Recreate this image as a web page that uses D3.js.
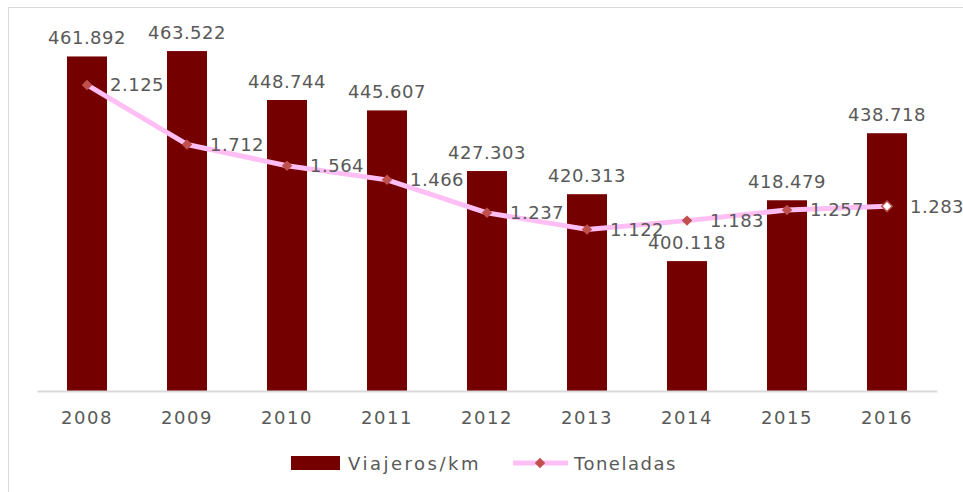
<!DOCTYPE html>
<html>
<head>
<meta charset="utf-8">
<script src="https://cdn.jsdelivr.net/npm/d3@7"></script>
<style>
  body { margin: 0; background: #fff; }
  svg { display: block; }
  text { font-family: "DejaVu Sans", sans-serif; }
</style>
</head>
<body>
<svg id="chart" width="963" height="492"></svg>
<script>
// data
const years = ["2008", "2009", "2010", "2011", "2012", "2013", "2014", "2015", "2016"];
const viajeros = [461.892, 463.522, 448.744, 445.607, 427.303, 420.313, 400.118, 418.479, 438.718];
const toneladas = [2.125, 1.712, 1.564, 1.466, 1.237, 1.122, 1.183, 1.257, 1.283];
const seriesNames = ["Viajeros/km", "Toneladas"];

const fmt = d3.format(".3f");
const svg = d3.select("#chart");

const barColor = "#750000";
const lineColor = "#ffbff4";
const markColor = "#c0504d";
const textColor = "#595959";

// frame (only the top left part is visible in the crop)
svg.append("path")
  .attr("d", "M8.5,492 V7.5 H963")
  .attr("fill", "none")
  .attr("stroke", "#d9d9d9")
  .attr("stroke-width", 1);

// cut off title, only descenders show
svg.append("text")
  .attr("x", 60).attr("y", -5)
  .attr("textLength", 650)
  .attr("lengthAdjust", "spacing")
  .style("font-size", "22px")
  .style("font-weight", "bold")
  .attr("fill", "#7f1734")
  .text("Tráfico de viajeros/km y toneladas (2008-2016)");

const x = d3.scaleBand().domain(years).range([37, 937]).paddingInner(0.6).paddingOuter(0.3);
const y = d3.scaleLinear().domain([360.9, 472.9]).range([391, 20]);
const y2 = d3.scaleLinear().domain([0, 2.576]).range([391, 20]);

// bars
svg.append("g").selectAll("rect")
  .data(viajeros)
  .join("rect")
  .attr("x", (d, i) => x(years[i]))
  .attr("width", x.bandwidth())
  .attr("y", d => y(d))
  .attr("height", d => y(360.9) - y(d))
  .attr("fill", barColor);

// axis line + year labels
const xAxis = svg.append("g")
  .attr("transform", "translate(0,391)")
  .call(d3.axisBottom(x).tickSize(0).tickPadding(20));
xAxis.select(".domain").attr("stroke", "#d9d9d9").attr("stroke-width", 2);
xAxis.selectAll("text")
  .style("font-size", "18px")
  .style("letter-spacing", "1.5px")
  .style("font-family", "DejaVu Sans, sans-serif")
  .attr("fill", textColor);

// bar value labels
svg.append("g").selectAll("text")
  .data(viajeros)
  .join("text")
  .attr("x", (d, i) => x(years[i]) + x.bandwidth() / 2)
  .attr("y", d => y(d) - 12)
  .attr("text-anchor", "middle")
  .style("font-size", "18px")
  .style("letter-spacing", "0.5px")
  .attr("fill", textColor)
  .text(d => fmt(d));

// Toneladas line
const cx = i => x(years[i]) + x.bandwidth() / 2;
const line = d3.line()
  .x((d, i) => cx(i))
  .y(d => y2(d));

svg.append("path")
  .attr("d", line(toneladas))
  .attr("fill", "none")
  .attr("stroke", lineColor)
  .attr("stroke-width", 5)
  .attr("stroke-linejoin", "round");

const diamond = d3.symbol().type(d3.symbolSquare).size(55);
svg.append("g").selectAll("path")
  .data(toneladas)
  .join("path")
  .attr("d", diamond)
  .attr("transform", (d, i) => `translate(${cx(i)},${y2(d)}) rotate(45)`)
  .attr("fill", (d, i) => i === toneladas.length - 1 ? "#fff" : markColor)
  .attr("stroke", markColor)
  .attr("stroke-width", (d, i) => i === toneladas.length - 1 ? 1.5 : 0);

svg.append("g").selectAll("text")
  .data(toneladas)
  .join("text")
  .attr("x", (d, i) => cx(i) + 23)
  .attr("y", d => y2(d) + 6.5)
  .style("font-size", "18px")
  .style("letter-spacing", "0.5px")
  .attr("fill", textColor)
  .text(d => fmt(d));

// legend
const leg = svg.append("g").attr("transform", "translate(0,463)");
leg.append("rect")
  .attr("x", 291).attr("y", -7).attr("width", 49).attr("height", 14)
  .attr("fill", barColor);
leg.append("text")
  .attr("x", 348).attr("y", 7)
  .style("font-size", "18px")
  .style("letter-spacing", "2.5px")
  .attr("fill", textColor)
  .text(seriesNames[0]);
leg.append("line")
  .attr("x1", 513).attr("x2", 568)
  .attr("stroke", lineColor).attr("stroke-width", 5);
leg.append("path")
  .attr("d", diamond)
  .attr("transform", "translate(540,0) rotate(45)")
  .attr("fill", markColor);
leg.append("text")
  .attr("x", 574).attr("y", 7)
  .style("font-size", "18px")
  .style("letter-spacing", "1.5px")
  .attr("fill", textColor)
  .text(seriesNames[1]);
</script>
</body>
</html>
